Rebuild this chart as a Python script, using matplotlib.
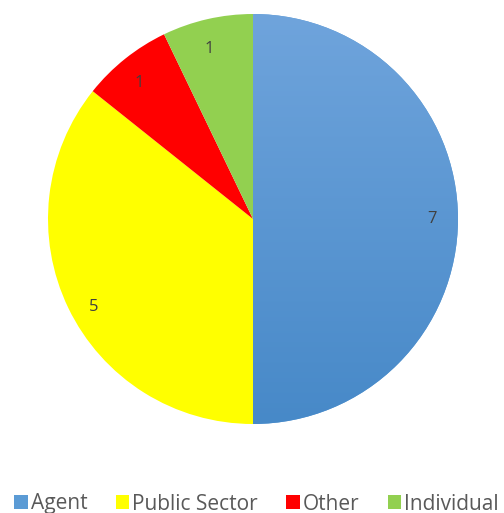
import matplotlib
matplotlib.use("Agg")
import matplotlib.pyplot as plt
import numpy as np
from matplotlib.colors import LinearSegmentedColormap
from matplotlib.patches import Patch

labels = ["Agent", "Public Sector", "Other", "Individual"]
values = [7, 5, 1, 1]
colors = ["#5b9bd5", "#ffff00", "#ff0000", "#92d050"]

fig = plt.figure(figsize=(5.04, 5.13), dpi=100)
ax = fig.add_axes([48 / 504, (513 - 424) / 513, 410 / 504, 410 / 513])

wedges, texts = ax.pie(values, colors=colors, startangle=90, counterclock=False,
                       labels=[str(v) for v in values], labeldistance=0.85,
                       radius=1.0, textprops=dict(color="#404040", fontsize=12,
                                                  family="Open Sans"))

# gradient fill on the Agent slice
cmap = LinearSegmentedColormap.from_list("blu", ["#4789c8", "#6fa4dc"])
grad = np.linspace(0, 1, 256).reshape(-1, 1)
im = ax.imshow(grad, cmap=cmap, origin="lower", extent=[-1, 1, -1, 1],
               aspect="auto", zorder=wedges[0].get_zorder() + 0.5)
im.set_clip_path(wedges[0])
for t in texts:
    t.set_zorder(5)
# nudge the Public Sector label a little lower, as in the original
x, y = texts[1].get_position()
texts[1].set_position((x + 0.01, y - 0.06))

ax.set_xlim(-1, 1)
ax.set_ylim(-1, 1)
ax.set_aspect("equal")
ax.axis("off")

handles = [Patch(facecolor=c, edgecolor="none") for c in colors]
fig.legend(handles, labels, loc="center", bbox_to_anchor=(0.509, 1 - 504 / 513), ncol=4,
           frameon=False, handlelength=0.65, handleheight=0.65, handletextpad=0.15,
           columnspacing=1.35, prop=dict(family="Open Sans", size=15), labelcolor="#595959")

fig.savefig("out.png", dpi=100)
